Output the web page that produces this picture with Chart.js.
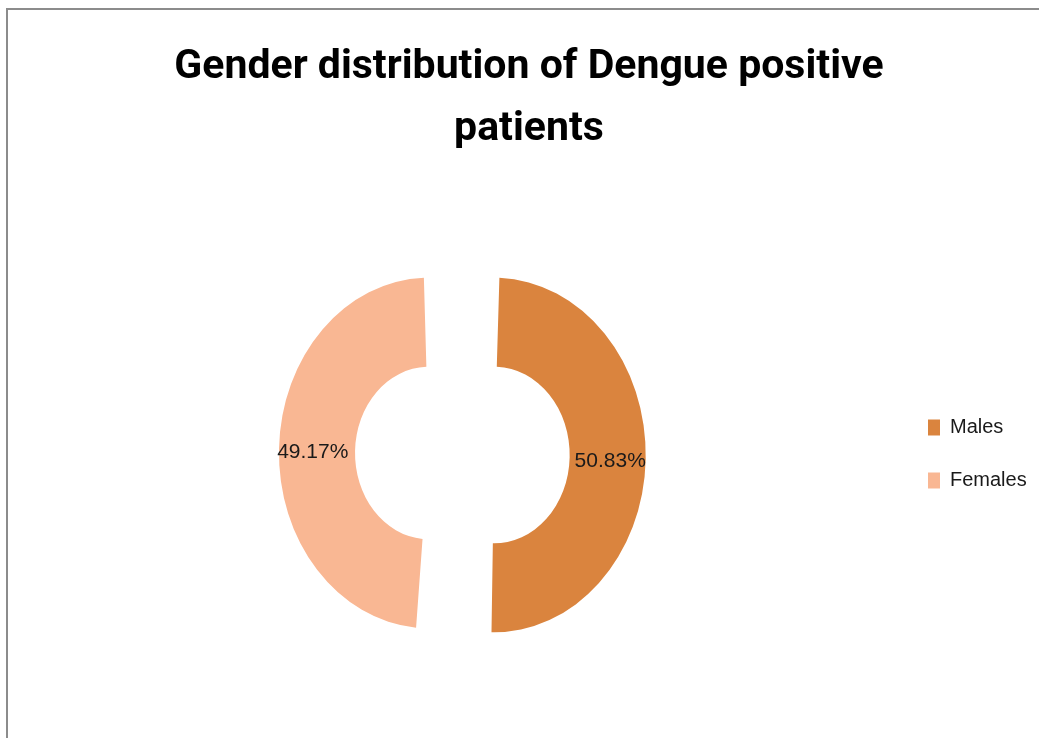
<!DOCTYPE html>
<html>
<head>
<meta charset="utf-8">
<script src="https://cdn.jsdelivr.net/npm/chart.js@4"></script>
<style>
  html, body { margin: 0; padding: 0; background: #fff; }
  #frame { position: absolute; left: 6px; top: 8px; width: 1200px; height: 900px; border: 2px solid #8c8c8c; }
  #wrap { position: absolute; left: 0; top: 0; width: 1039px; height: 738px; }
</style>
</head>
<body>
<div id="frame"></div>
<div id="wrap"><canvas id="genderChart" width="1039" height="738"></canvas></div>
<script>
// Gender distribution data
const genders = ["Males", "Females"];
const shares = [50.83, 49.17];
const sliceColors = ["#DA843E", "#F9B793"];

const squashX = 0.855;   // reference ring is drawn narrower than tall
const sliceOffset = 153;

// squeeze the arcs horizontally around the chart centre
const squashPlugin = {
  id: "squash",
  beforeDatasetsDraw(chart) {
    const a = chart.chartArea;
    const cx = (a.left + a.right) / 2;
    const ctx = chart.ctx;
    ctx.save();
    ctx.translate(cx, 0);
    ctx.scale(squashX, 1);
    ctx.translate(-cx, 0);
  },
  afterDatasetsDraw(chart) {
    chart.ctx.restore();
  }
};

// percentage labels in the middle of each ring slice
const percentLabels = {
  id: "percentLabels",
  afterDatasetsDraw(chart) {
    const ctx = chart.ctx;
    const a = chart.chartArea;
    const cx = (a.left + a.right) / 2;
    const meta = chart.getDatasetMeta(0);
    ctx.save();
    ctx.font = "21px 'Liberation Sans', Arial, sans-serif";
    ctx.fillStyle = "#1a1a1a";
    ctx.textAlign = "center";
    ctx.textBaseline = "middle";
    meta.data.forEach((arc, i) => {
      const p = arc.getCenterPoint();
      const mid = (arc.startAngle + arc.endAngle) / 2;
      const x = p.x + Math.cos(mid) * 3;
      const y = p.y + Math.sin(mid) * 3 + 3;
      ctx.fillText(shares[i].toFixed(2) + "%", cx + (x - cx) * squashX, y);
    });
    ctx.restore();
  }
};

// fix the legend box width
const legendWidth = {
  id: "legendWidth",
  beforeInit(chart) {
    const fit = chart.legend.fit;
    chart.legend.fit = function () {
      fit.call(this);
      this.width = 135;
    };
  }
};

const ctx = document.getElementById("genderChart").getContext("2d");
new Chart(ctx, {
  type: "doughnut",
  data: {
    labels: genders,
    datasets: [{
      data: shares,
      backgroundColor: sliceColors,
      borderWidth: 0,
      offset: sliceOffset,
      hoverOffset: 0,
      radius: 139,
      cutout: "36%"
    }]
  },
  options: {
    responsive: false,
    animation: false,
    layout: { padding: { left: 28, right: 9, top: 0, bottom: 0 } },
    plugins: {
      title: {
        display: true,
        text: ["Gender distribution of Dengue positive", "patients"],
        color: "#000",
        font: { family: "Roboto, 'Liberation Sans', sans-serif", size: 41, weight: "bold", lineHeight: 1.5 },
        padding: { top: 37, bottom: 10 }
      },
      legend: {
        position: "right",
        fullSize: false,
        labels: {
          boxWidth: 12,
          boxHeight: 16,
          padding: 33,
          color: "#1a1a1a",
          font: { family: "'Liberation Sans', Arial, sans-serif", size: 20 }
        }
      },
      tooltip: { enabled: false }
    }
  },
  plugins: [squashPlugin, percentLabels, legendWidth]
});
</script>
</body>
</html>
